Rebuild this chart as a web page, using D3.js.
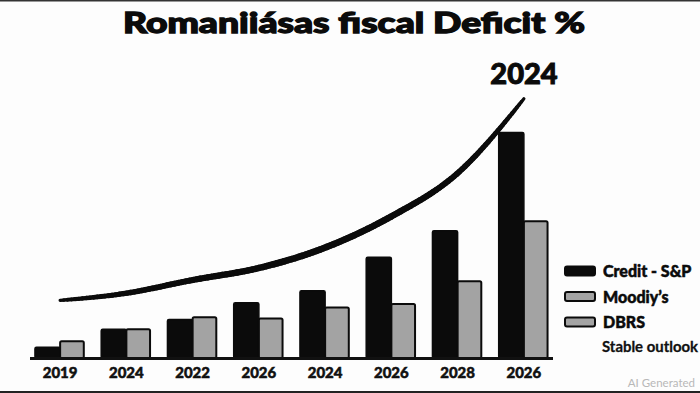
<!DOCTYPE html>
<meta charset="utf-8">
<style>
body { margin: 0; background: #fdfdfd; }
text { font-family: Lato, "Open Sans", sans-serif; }
</style>
<body>
<script src="https://cdn.jsdelivr.net/npm/d3@7"></script>
<script>
var width = 700,
    height = 393;

// data
var years = ["2019", "2024", "2022", "2026", "2024", "2026", "2028", "2026"];
var sp = [0.45, 1.2, 1.6, 2.3, 2.8, 4.2, 5.3, 9.4];
var moodys = [0.7, 1.2, 1.7, 1.65, 2.1, 2.25, 3.2, 5.7];
var trend = [2.4, 2.7, 3.25, 3.75, 4.6, 5.9, 7.7, 10.8];
var legendLabels = ["Credit - S&P", "Moodiy’s", "DBRS"];
var legendColors = ["#0b0b0b", "#a3a3a3", "#a3a3a3"];

var svg = d3.select("body").append("svg")
    .attr("width", width)
    .attr("height", height);

svg.append("rect").attr("width", width).attr("height", height).attr("fill", "#fdfdfd");
// dark edges top and bottom
svg.append("rect").attr("x", 0).attr("y", 0).attr("width", width).attr("height", 1.5).attr("fill", "#333");
svg.append("rect").attr("x", 0).attr("y", 391).attr("width", width).attr("height", 2).attr("fill", "#222");

var x = d3.scaleBand()
    .domain(d3.range(years.length))
    .range([27, 557])
    .paddingInner(0.24)
    .paddingOuter(0.12);

var x1 = d3.scaleBand()
    .domain(["sp", "moodys"])
    .range([0, x.bandwidth()]);

var y = d3.scaleLinear()
    .domain([0, 10])
    .range([358, 118]);

var groups = svg.append("g").selectAll("g")
    .data(years)
    .enter().append("g")
    .attr("transform", (d, i) => "translate(" + x(i) + ",0)");

groups.append("rect")
    .attr("x", x1("sp"))
    .attr("y", (d, i) => y(sp[i]))
    .attr("width", x1.bandwidth())
    .attr("height", (d, i) => y(0) - y(sp[i]))
    .attr("rx", 1.5)
    .attr("fill", "#0b0b0b")
    .attr("stroke", "#0b0b0b")
    .attr("stroke-width", 1.5);

groups.append("rect")
    .attr("x", x1("moodys"))
    .attr("y", (d, i) => y(moodys[i]))
    .attr("width", x1.bandwidth() - 1.5)
    .attr("height", (d, i) => y(0) - y(moodys[i]))
    .attr("rx", 1.5)
    .attr("fill", "#a3a3a3")
    .attr("stroke", "#0b0b0b")
    .attr("stroke-width", 2);

// baseline
svg.append("line")
    .attr("x1", 30).attr("x2", 553)
    .attr("y1", y(0) + 0.5).attr("y2", y(0) + 0.5)
    .attr("stroke", "#111").attr("stroke-width", 3);

// x labels
groups.append("text")
    .attr("x", x.bandwidth() / 2)
    .attr("y", 378)
    .attr("text-anchor", "middle")
    .attr("font-size", 15)
    .attr("font-weight", 900)
    .attr("fill", "#111")
    .attr("stroke", "#111")
    .attr("stroke-width", 0.5)
    .text(d => d);

// trend curve, tapered at both ends
var line = d3.line()
    .x((d, i) => x(i) + x.bandwidth() / 2)
    .y(d => y(d))
    .curve(d3.curveMonotoneX);

var guide = svg.append("path")
    .attr("d", line(trend))
    .attr("fill", "none")
    .attr("stroke", "none");

var node = guide.node(),
    len = node.getTotalLength(),
    n = 140,
    pts = d3.range(n + 1).map(k => node.getPointAtLength(len * k / n));

svg.append("g").selectAll("line")
    .data(pts.slice(1))
    .enter().append("line")
    .attr("x1", (d, k) => pts[k].x)
    .attr("y1", (d, k) => pts[k].y)
    .attr("x2", d => d.x)
    .attr("y2", d => d.y)
    .attr("stroke", "#0b0b0b")
    .attr("stroke-linecap", "round")
    .attr("stroke-width", (d, k) => 2 + 4.6 * Math.pow(Math.sin(Math.PI * (k + 1) / (n + 1)), 0.35));

// title
svg.append("text")
    .attr("x", 354)
    .attr("y", 33)
    .attr("text-anchor", "middle")
    .attr("font-size", 28)
    .attr("font-weight", 900)
    .attr("textLength", 462)
    .attr("lengthAdjust", "spacingAndGlyphs")
    .attr("fill", "#0b0b0b")
    .attr("stroke", "#0b0b0b")
    .attr("stroke-width", 1.3)
    .text("Romaniiásas fiscal Deficit %");

svg.append("text")
    .attr("x", 524)
    .attr("y", 84)
    .attr("text-anchor", "middle")
    .attr("font-size", 29)
    .attr("font-weight", 900)
    .attr("fill", "#0b0b0b")
    .attr("stroke", "#0b0b0b")
    .attr("stroke-width", 1)
    .text("2024");

// legend
var legend = svg.append("g").selectAll("g")
    .data(legendLabels)
    .enter().append("g")
    .attr("transform", (d, i) => "translate(565," + (271 + i * 25.5) + ")");

legend.append("rect")
    .attr("x", 0).attr("y", -4.5)
    .attr("width", 30).attr("height", 9)
    .attr("rx", 2)
    .attr("fill", (d, i) => legendColors[i])
    .attr("stroke", "#0b0b0b")
    .attr("stroke-width", 2);

legend.append("text")
    .attr("x", 38)
    .attr("y", 6)
    .attr("font-size", 16)
    .attr("font-weight", 900)
    .attr("fill", "#0b0b0b")
    .attr("stroke", "#0b0b0b")
    .attr("stroke-width", 0.5)
    .text(d => d);

svg.append("text")
    .attr("x", 602)
    .attr("y", 352)
    .attr("font-size", 15)
    .attr("font-weight", 700)
    .attr("textLength", 96)
    .attr("lengthAdjust", "spacingAndGlyphs")
    .attr("fill", "#111")
    .attr("stroke", "#111")
    .attr("stroke-width", 0.3)
    .text("Stable outlook");

svg.append("text")
    .attr("x", 695)
    .attr("y", 387)
    .attr("text-anchor", "end")
    .attr("font-size", 11.5)
    .attr("fill", "#b8b8b8")
    .text("AI Generated");
</script>
</body>
</html>
